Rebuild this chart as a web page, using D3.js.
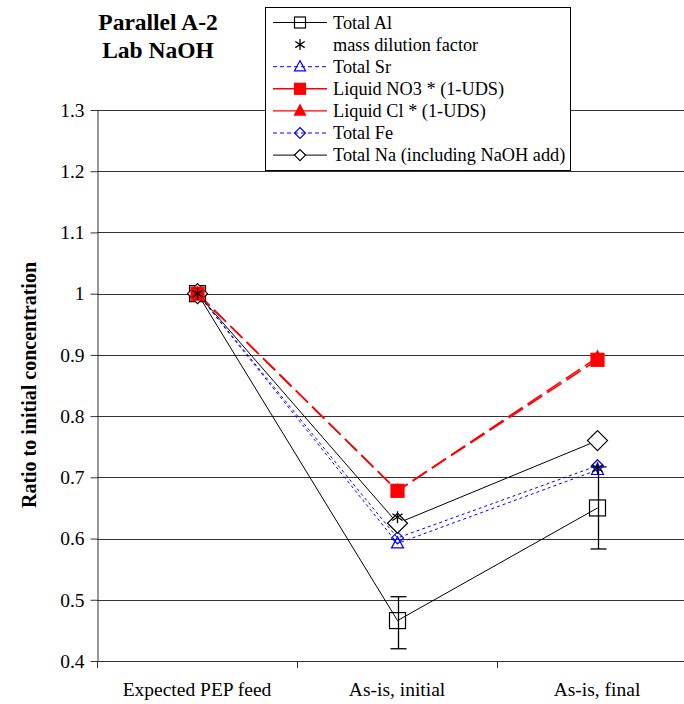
<!DOCTYPE html>
<html><head><meta charset="utf-8">
<script src="https://cdn.jsdelivr.net/npm/d3@7"></script>
<style>body{margin:0;background:#fff}svg{display:block}</style>
</head><body>
<svg id="c" width="684" height="704" style="font-family:'Times New Roman','Liberation Serif','DejaVu Serif',serif"></svg>
<script>
const categories = ["Expected PEP feed", "As-is, initial", "As-is, final"];
const yTicks = [0.4, 0.5, 0.6, 0.7, 0.8, 0.9, 1, 1.1, 1.2, 1.3];
const totalAl = [1.0, 0.466, 0.650];
const totalAlErrLow = [null, 0.420, 0.583];
const totalAlErrHigh = [null, 0.505, 0.717];
const massDilution = [1.0, 0.635, 0.715];
const totalSr = [1.0, 0.592, 0.712];
const liquidNO3 = [1.0, 0.678, 0.892];
const liquidCl = [1.0, 0.678, 0.896];
const totalFe = [1.0, 0.601, 0.719];
const totalNa = [1.0, 0.625, 0.760];
const titleLines = ["Parallel A-2", "Lab NaOH"];
const yLabel = "Ratio to initial concentration";

const FONT = "'Times New Roman','Liberation Serif','DejaVu Serif',serif";

const series = [
  {name:"Total Al", values:totalAl, color:"#000", dash:null, line:true, marker:"square", fill:"none", size:16},
  {name:"mass dilution factor", values:massDilution, color:"#000", dash:null, line:false, marker:"asterisk", size:12},
  {name:"Total Sr", values:totalSr, color:"#0000ff", dash:"3,3", line:true, marker:"triangle", fill:"none", size:12},
  {name:"Liquid NO3 * (1-UDS)", values:liquidNO3, color:"#ff0000", dash:"17,6", line:true, marker:"square", fill:"#ff0000", size:13},
  {name:"Liquid Cl * (1-UDS)", values:liquidCl, color:"#ff0000", dash:"17,6", line:true, marker:"triangle", fill:"#ff0000", size:12},
  {name:"Total Fe", values:totalFe, color:"#0000ff", dash:"3,3", line:true, marker:"diamond", fill:"none", size:12},
  {name:"Total Na (including NaOH add)", values:totalNa, color:"#000", dash:null, line:true, marker:"diamond", fill:"#fff", size:20}
];

const svg = d3.select("#c");
const x = d3.scaleBand().domain(categories).range([97, 697]);
const y = d3.scaleLinear().domain([0.4, 1.3]).range([661, 110]);
const cx = c => x(c) + x.bandwidth()/2 + 0.5;

// gridlines
svg.append("g").selectAll("line").data(yTicks).join("line")
  .attr("x1", 97).attr("x2", 684)
  .attr("y1", d => Math.round(y(d))+0.5).attr("y2", d => Math.round(y(d))+0.5)
  .attr("stroke", "#333").attr("stroke-width", 1);

// y axis
const ya = svg.append("g").attr("transform","translate(97.5,0)")
  .call(d3.axisLeft(y).tickValues(yTicks).tickSize(7).tickSizeOuter(0).tickFormat(d3.format("")));
ya.attr("font-family", FONT);
ya.select(".domain").attr("stroke","#333");
ya.selectAll(".tick line").attr("stroke","#333");
ya.selectAll(".tick text").attr("font-size", 19.5).attr("fill","#000").attr("x",-13).style("font-family", FONT);

// x axis
const xa = svg.append("g").attr("transform","translate(0,661.5)")
  .call(d3.axisBottom(x).tickSize(0).tickSizeOuter(0));
xa.attr("font-family", FONT);
xa.select(".domain").remove();
xa.selectAll(".tick text").attr("font-size", 19.5).attr("fill","#000").attr("y", 21).style("font-family", FONT);
svg.append("g").selectAll("line").data(categories).join("line")
  .attr("x1", d => Math.round(x(d))+0.5).attr("x2", d => Math.round(x(d))+0.5)
  .attr("y1", 661).attr("y2", 668).attr("stroke","#333");

// y label
svg.append("text").attr("transform","translate(36,385) rotate(-90)")
  .attr("text-anchor","middle").attr("font-size",20).attr("font-weight","bold").style("font-family", FONT).text(yLabel);

// title
svg.append("g").selectAll("text").data(titleLines).join("text")
  .attr("x", 158).attr("y", (d,i) => 30 + i*28).attr("text-anchor","middle")
  .attr("font-size", 23.5).attr("font-weight","bold").style("font-family", FONT).text(d => d);

function marker(g, s, px, py) {
  const r = s.size/2;
  if (s.marker === "square") {
    g.append("rect").attr("x", px-r).attr("y", py-r).attr("width", 2*r).attr("height", 2*r)
      .attr("fill", s.fill).attr("stroke", s.color).attr("stroke-width", 1.2);
  } else if (s.marker === "triangle") {
    g.append("path").attr("d", `M${px},${py-r*1.1}L${px+r},${py+r*0.75}L${px-r},${py+r*0.75}Z`)
      .attr("fill", s.fill).attr("stroke", s.color).attr("stroke-width", 1.2);
  } else if (s.marker === "diamond") {
    g.append("path").attr("d", `M${px},${py-r}L${px+r},${py}L${px},${py+r}L${px-r},${py}Z`)
      .attr("fill", s.fill).attr("stroke", s.color).attr("stroke-width", 1.2);
  } else if (s.marker === "asterisk") {
    const a = r;
    g.append("path").attr("d",
      `M${px},${py-a}L${px},${py+a}M${px-a*0.85},${py-a*0.55}L${px+a*0.85},${py+a*0.55}M${px-a*0.85},${py+a*0.55}L${px+a*0.85},${py-a*0.55}`)
      .attr("stroke", s.color).attr("stroke-width", 1.3).attr("fill","none");
  }
}

const plot = svg.append("g");
const lineGen = d3.line().x((d,i) => cx(categories[i])).y(d => y(d));

const order = [0, 2, 5, 6, 4, 3, 1];
order.forEach(i => {
  const s = series[i];
  if (s.line) {
    plot.append("path").datum(s.values).attr("d", lineGen)
      .attr("fill","none").attr("stroke", s.color).attr("stroke-width", s.color === "#ff0000" ? 1.6 : 1)
      .attr("stroke-dasharray", s.dash);
  }
});
categories.forEach((c,i) => {
  if (totalAlErrLow[i] == null) return;
  const px = Math.round(cx(c))+0.5;
  plot.append("line").attr("x1", px).attr("x2", px).attr("y1", y(totalAlErrLow[i])).attr("y2", y(totalAlErrHigh[i])).attr("stroke","#000").attr("stroke-width",1.3);
  [totalAlErrLow[i], totalAlErrHigh[i]].forEach(v => plot.append("line").attr("x1", px-8).attr("x2", px+8).attr("y1", y(v)).attr("y2", y(v)).attr("stroke","#000").attr("stroke-width",1.3));
});
order.forEach(i => {
  const s = series[i];
  s.values.forEach((v,j) => marker(plot, s, cx(categories[j]), y(v)));
});

// legend
const lg = svg.append("g");
lg.append("rect").attr("x", 265.5).attr("y", 7.5).attr("width", 305).attr("height", 163)
  .attr("fill","#fff").attr("stroke","#000").attr("stroke-width",1);
series.forEach((s,i) => {
  const ly = 22.5 + i*22.1;
  if (s.line) {
    lg.append("line").attr("x1", 273).attr("x2", 327).attr("y1", ly).attr("y2", ly)
      .attr("stroke", s.color).attr("stroke-width", s.color === "#ff0000" ? 1.4 : 1)
      .attr("stroke-dasharray", s.color === "#0000ff" ? "4,3" : null);
  }
  const ls = Object.assign({}, s, {size: 11});
  marker(lg, ls, 300, ly);
  lg.append("text").attr("x", 333).attr("y", ly+6).attr("font-size", 18.3).style("font-family", FONT).text(s.name);
});
</script>
</body></html>
